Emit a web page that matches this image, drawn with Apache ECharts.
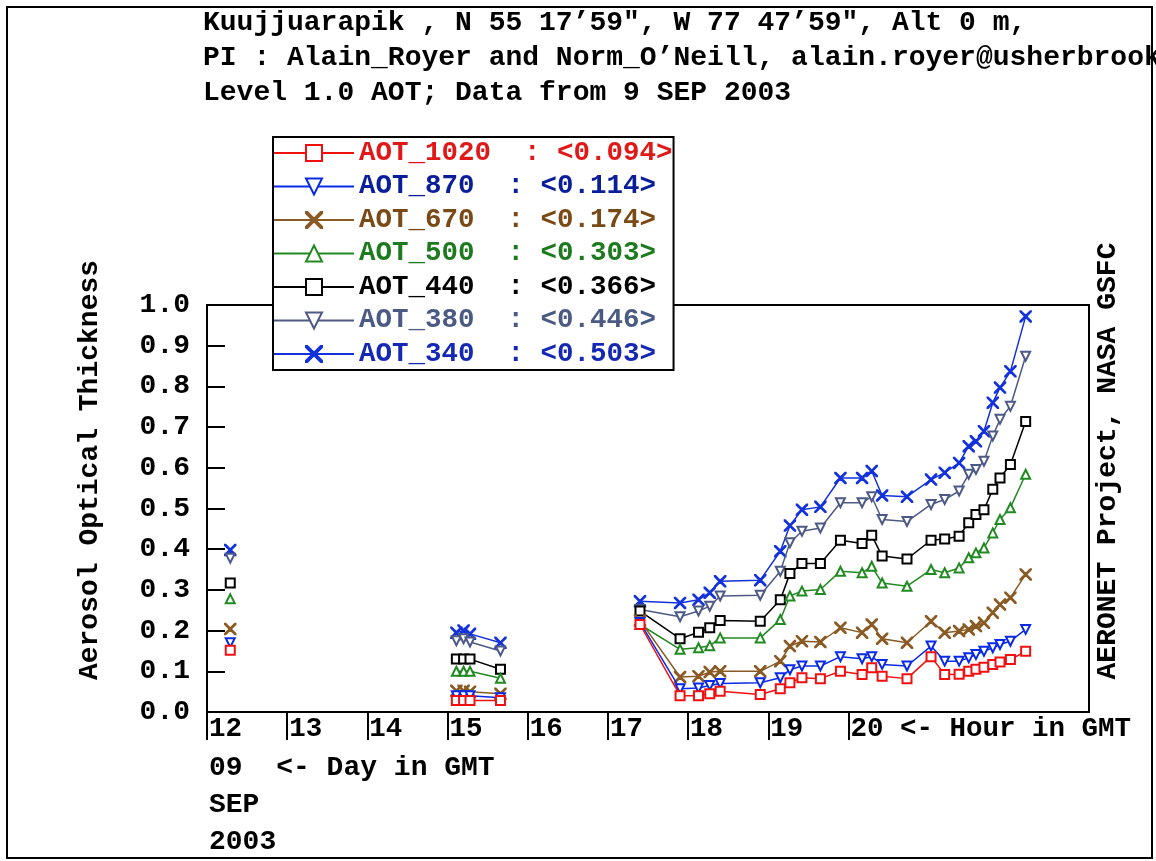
<!DOCTYPE html>
<html><head><meta charset="utf-8">
<script src="https://cdn.jsdelivr.net/npm/echarts@6/dist/echarts.min.js"></script>
<style>html,body{margin:0;padding:0;background:#fff}#c{width:1156px;height:861px}</style>
</head><body><div id="c"></div>
<script>
// ---- data (hour in GMT, AOT values; null = gap in record) ----
const hours   = [12.29, null, 15.11, 15.20, 15.28, 15.66, null, 17.40, 17.90, 18.13, 18.27, 18.40, 18.90, 19.15, 19.27, 19.42, 19.65, 19.90, 20.17, 20.29, 20.42, 20.73, 21.03, 21.20, 21.38, 21.50, 21.59, 21.69, 21.80, 21.89, 22.02, 22.21];
const aot1020 = [0.152, null, 0.028, 0.028, 0.028, 0.028, null, 0.215, 0.040, 0.040, 0.045, 0.051, 0.043, 0.057, 0.072, 0.084, 0.082, 0.100, 0.092, 0.109, 0.088, 0.082, 0.136, 0.092, 0.093, 0.100, 0.105, 0.110, 0.117, 0.123, 0.129, 0.149];
const aot870  = [0.170, null, 0.040, 0.040, 0.040, 0.035, null, 0.220, 0.057, 0.059, 0.065, 0.070, 0.072, 0.084, 0.104, 0.113, 0.113, 0.136, 0.131, 0.136, 0.117, 0.113, 0.162, 0.125, 0.125, 0.133, 0.141, 0.149, 0.158, 0.166, 0.174, 0.203];
const aot670  = [0.204, null, 0.052, 0.052, 0.050, 0.045, null, 0.225, 0.086, 0.088, 0.098, 0.100, 0.100, 0.125, 0.162, 0.174, 0.172, 0.207, 0.195, 0.215, 0.180, 0.170, 0.223, 0.195, 0.199, 0.203, 0.211, 0.219, 0.244, 0.264, 0.281, 0.338];
const aot500  = [0.278, null, 0.100, 0.100, 0.100, 0.083, null, 0.215, 0.154, 0.158, 0.163, 0.182, 0.182, 0.227, 0.285, 0.297, 0.301, 0.346, 0.342, 0.358, 0.317, 0.309, 0.350, 0.342, 0.354, 0.379, 0.391, 0.403, 0.440, 0.473, 0.502, 0.584];
const aot440  = [0.317, null, 0.130, 0.130, 0.130, 0.105, null, 0.248, 0.180, 0.196, 0.207, 0.225, 0.223, 0.276, 0.340, 0.365, 0.365, 0.422, 0.414, 0.434, 0.383, 0.376, 0.422, 0.425, 0.432, 0.465, 0.485, 0.497, 0.547, 0.575, 0.608, 0.714];
const aot380  = [0.378, null, 0.175, 0.180, 0.172, 0.150, null, 0.252, 0.234, 0.248, 0.260, 0.285, 0.287, 0.346, 0.416, 0.444, 0.452, 0.514, 0.514, 0.529, 0.473, 0.468, 0.510, 0.522, 0.543, 0.584, 0.596, 0.616, 0.678, 0.719, 0.751, 0.874];
const aot340  = [0.398, null, 0.195, 0.200, 0.192, 0.170, null, 0.272, 0.268, 0.276, 0.293, 0.321, 0.324, 0.395, 0.458, 0.497, 0.504, 0.575, 0.575, 0.592, 0.532, 0.529, 0.571, 0.588, 0.612, 0.653, 0.665, 0.690, 0.760, 0.797, 0.837, 0.972];

const seriesNames = ['AOT_1020', 'AOT_870', 'AOT_670', 'AOT_500', 'AOT_440', 'AOT_380', 'AOT_340'];
const seriesMeans = ['0.094', '0.114', '0.174', '0.303', '0.366', '0.446', '0.503'];
const hourTicks = [12, 13, 14, 15, 16, 17, 18, 19, 20];

const titleLines = [
  'Kuujjuarapik , N 55 17\u201959", W 77 47\u201959", Alt 0 m,',
  'PI : Alain_Royer and Norm_O\u2019Neill, alain.royer@usherbrooke.ca',
  'Level 1.0 AOT; Data from 9 SEP 2003'
];
const yName = 'Aerosol Optical Thickness';
const rightNote = 'AERONET Project, NASA GSFC';
const dayLines = ['09  <- Day in GMT', 'SEP', '2003'];

// ---- styling ----
const FONT = '"Liberation Mono", "DejaVu Sans Mono", monospace';
const FS = 28;
const CROSS = 'path://M0,0L0.8,0L5,4.2L9.2,0L10,0L10,0.8L5.8,5L10,9.2L10,10L9.2,10L5,5.8L0.8,10L0,10L0,9.2L4.2,5L0,0.8Z';
const styles = [
  {values: aot1020, line: '#f01010', text: '#e01818', symbol: 'emptyRect', rotate: 0, size: 9},
  {values: aot870,  line: '#0a2ae6', text: '#0a1e9a', symbol: 'emptyTriangle', rotate: 180, size: 9},
  {values: aot670,  line: '#8a5a24', text: '#7a4a16', symbol: CROSS, rotate: 0, size: 11},
  {values: aot500,  line: '#228a22', text: '#1e7a1e', symbol: 'emptyTriangle', rotate: 0, size: 9},
  {values: aot440,  line: '#000000', text: '#000000', symbol: 'emptyRect', rotate: 0, size: 9},
  {values: aot380,  line: '#4e5a86', text: '#4a5a82', symbol: 'emptyTriangle', rotate: 180, size: 9},
  {values: aot340,  line: '#1432dc', text: '#1428b4', symbol: CROSS, rotate: 0, size: 11}
];

const series = styles.map((s, i) => ({
  name: seriesNames[i],
  type: 'line',
  data: hours.map((h, k) => [h, s.values[k]]),
  connectNulls: false,
  symbol: s.symbol,
  symbolRotate: s.rotate,
  symbolSize: s.size,
  showAllSymbol: true,
  lineStyle: {color: s.line, width: 1.5},
  itemStyle: {color: s.line, borderColor: s.line, borderWidth: 1.5},
  emphasis: {disabled: true},
  z: 10 - i
}));

const textStyleBase = {fontFamily: FONT, fontWeight: 'bold', fontSize: FS, fill: '#000'};

const graphics = [
  {type: 'rect', shape: {x: 7, y: 7, width: 1145, height: 851}, style: {fill: 'none', stroke: '#000', lineWidth: 2}, z: 0, silent: true}
];
titleLines.forEach((t, i) => graphics.push({
  type: 'text', x: 203, y: 23 + i * 35, z: 20,
  style: Object.assign({}, textStyleBase, {text: t, align: 'left', verticalAlign: 'middle'})
}));
graphics.push({
  type: 'text', x: 90, y: 470, rotation: Math.PI / 2, z: 20,
  style: Object.assign({}, textStyleBase, {text: yName, align: 'center', verticalAlign: 'middle'})
});
graphics.push({
  type: 'text', x: 1108, y: 461, rotation: Math.PI / 2, z: 20,
  style: Object.assign({}, textStyleBase, {text: rightNote, align: 'center', verticalAlign: 'middle'})
});
dayLines.forEach((t, i) => graphics.push({
  type: 'text', x: 209, y: 768 + i * 37, z: 20,
  style: Object.assign({}, textStyleBase, {text: t, align: 'left', verticalAlign: 'middle'})
}));

const chart = echarts.init(document.getElementById('c'), null, {renderer: 'canvas'});
chart.setOption({
  animation: false,
  backgroundColor: '#fff',
  grid: {left: 207, right: 67, top: 305, bottom: 149, show: true, borderColor: '#000', borderWidth: 2, backgroundColor: 'transparent'},
  xAxis: {
    type: 'value', min: 12, max: 23, interval: 1,
    axisLine: {show: true, lineStyle: {color: '#000', width: 2}},
    axisTick: {show: true, inside: false, length: 28, customValues: hourTicks, lineStyle: {color: '#000', width: 2}},
    axisLabel: {
      customValues: hourTicks, align: 'left', margin: 3, padding: [0, 0, 0, 2],
      formatter: v => (v === 20 ? '20 <- Hour in GMT' : String(v)),
      color: '#000', fontFamily: FONT, fontWeight: 'bold', fontSize: 27.5
    },
    splitLine: {show: false}
  },
  yAxis: {
    type: 'value', min: 0, max: 1, interval: 0.1,
    axisLine: {show: true, lineStyle: {color: '#000', width: 2}},
    axisTick: {show: true, inside: true, length: 18, lineStyle: {color: '#000', width: 2}},
    axisLabel: {formatter: v => v.toFixed(1), margin: 17, color: '#000', fontFamily: FONT, fontWeight: 'bold', fontSize: FS},
    splitLine: {show: false}
  },
  legend: {
    orient: 'vertical', left: 273, top: 137,
    itemWidth: 80, itemHeight: 20, itemGap: 5.5,
    padding: [2, 1, 2, 0],
    backgroundColor: '#fff', borderColor: '#000', borderWidth: 2,
    selectedMode: false,
    textStyle: {fontFamily: FONT, fontWeight: 'bold', fontSize: 27.5, lineHeight: 28},
    data: seriesNames.map((n, i) => ({name: n, textStyle: {color: styles[i].text}})),
    formatter: name => name + '  : <' + seriesMeans[seriesNames.indexOf(name)] + '>',
    z: 8
  },
  graphic: graphics,
  series: series
});
</script>
</body></html>
